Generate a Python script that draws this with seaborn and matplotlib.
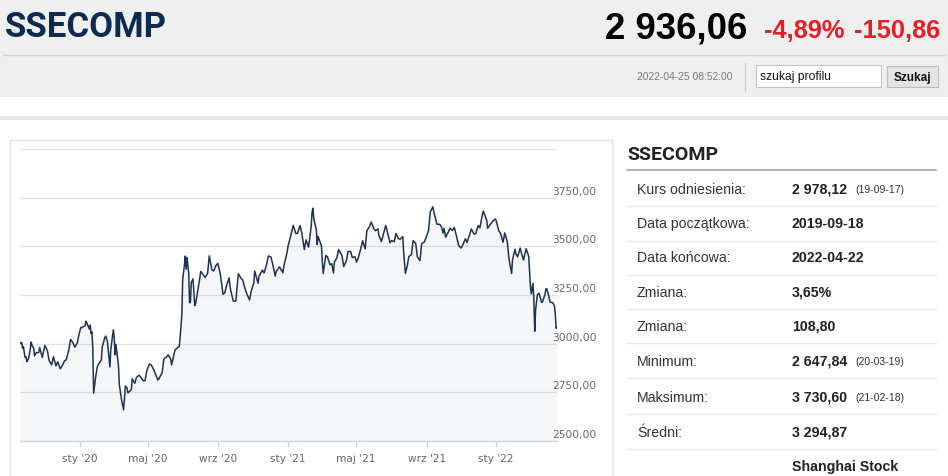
import numpy as np
import pandas as pd
import matplotlib
matplotlib.use("Agg")
import matplotlib.pyplot as plt
import seaborn as sns
from matplotlib.patches import Rectangle
from matplotlib.lines import Line2D

sns.set_theme(style="white")
plt.rcParams['font.family'] = ['Liberation Sans', 'DejaVu Sans']

# ---------------- data ----------------
dates = [
 "2019-09-18","2019-09-19","2019-09-20","2019-09-23","2019-09-24","2019-09-25","2019-09-26","2019-09-27","2019-09-30",
 "2019-10-08","2019-10-09","2019-10-10","2019-10-11","2019-10-14","2019-10-15","2019-10-17","2019-10-18","2019-10-22",
 "2019-10-25","2019-10-28","2019-10-31","2019-11-05","2019-11-08","2019-11-12","2019-11-15","2019-11-19","2019-11-22",
 "2019-11-26","2019-11-29","2019-12-03","2019-12-06","2019-12-10","2019-12-13","2019-12-17","2019-12-20","2019-12-24",
 "2019-12-27","2019-12-31",
 "2020-01-03","2020-01-06","2020-01-10","2020-01-13","2020-01-14","2020-01-17","2020-01-20","2020-01-21","2020-01-22",
 "2020-01-23","2020-02-03","2020-02-04","2020-02-05","2020-02-07","2020-02-10","2020-02-14","2020-02-17","2020-02-20",
 "2020-02-21","2020-02-25","2020-02-28","2020-03-02","2020-03-05","2020-03-06","2020-03-09","2020-03-10","2020-03-12",
 "2020-03-13","2020-03-16","2020-03-18","2020-03-19","2020-03-23","2020-03-24","2020-03-25","2020-03-27","2020-03-30",
 "2020-04-03","2020-04-07","2020-04-10","2020-04-14","2020-04-17","2020-04-21","2020-04-24","2020-04-28","2020-04-30",
 "2020-05-08","2020-05-12","2020-05-15","2020-05-22","2020-05-25","2020-05-29","2020-06-02","2020-06-05","2020-06-09",
 "2020-06-12","2020-06-15","2020-06-19","2020-06-24","2020-06-30","2020-07-02","2020-07-03","2020-07-06","2020-07-08",
 "2020-07-09","2020-07-10","2020-07-13","2020-07-15","2020-07-16","2020-07-17","2020-07-20","2020-07-22","2020-07-24",
 "2020-07-27","2020-07-31","2020-08-04","2020-08-07","2020-08-11","2020-08-14","2020-08-18","2020-08-21","2020-08-25",
 "2020-08-28","2020-09-01","2020-09-04","2020-09-09","2020-09-11","2020-09-15","2020-09-18","2020-09-22","2020-09-25",
 "2020-09-30","2020-10-09","2020-10-13","2020-10-16","2020-10-20","2020-10-23","2020-10-27","2020-10-30","2020-11-03",
 "2020-11-06","2020-11-09","2020-11-13","2020-11-16","2020-11-20","2020-11-24","2020-11-27","2020-12-01","2020-12-04",
 "2020-12-08","2020-12-11","2020-12-14","2020-12-18","2020-12-24","2020-12-25","2020-12-31",
 "2021-01-04","2021-01-08","2021-01-12","2021-01-15","2021-01-19","2021-01-22","2021-01-26","2021-01-29","2021-02-02",
 "2021-02-05","2021-02-10","2021-02-18","2021-02-19","2021-02-22","2021-02-25","2021-02-26","2021-03-01","2021-03-05",
 "2021-03-08","2021-03-09","2021-03-12","2021-03-16","2021-03-19","2021-03-23","2021-03-25","2021-03-26","2021-03-31",
 "2021-04-02","2021-04-09","2021-04-13","2021-04-16","2021-04-20","2021-04-23","2021-04-27","2021-04-30","2021-05-07",
 "2021-05-11","2021-05-14","2021-05-18","2021-05-21","2021-05-25","2021-05-28","2021-06-01","2021-06-04","2021-06-08",
 "2021-06-11","2021-06-15","2021-06-18","2021-06-22","2021-06-25","2021-06-29","2021-07-02","2021-07-06","2021-07-09",
 "2021-07-13","2021-07-16","2021-07-20","2021-07-23","2021-07-26","2021-07-28","2021-07-30","2021-08-03","2021-08-06",
 "2021-08-10","2021-08-13","2021-08-17","2021-08-20","2021-08-24","2021-08-27","2021-08-31","2021-09-03","2021-09-07",
 "2021-09-10","2021-09-14","2021-09-17","2021-09-24","2021-09-28","2021-09-30","2021-10-08","2021-10-12","2021-10-15",
 "2021-10-19","2021-10-22","2021-10-26","2021-10-29","2021-11-02","2021-11-05","2021-11-09","2021-11-12","2021-11-16",
 "2021-11-19","2021-11-23","2021-11-26","2021-11-30","2021-12-03","2021-12-07","2021-12-10","2021-12-13","2021-12-17",
 "2021-12-20","2021-12-24","2021-12-28","2021-12-31",
 "2022-01-04","2022-01-07","2022-01-11","2022-01-14","2022-01-18","2022-01-21","2022-01-25","2022-01-28","2022-02-07",
 "2022-02-10","2022-02-11","2022-02-15","2022-02-18","2022-02-22","2022-02-24","2022-02-25","2022-03-01","2022-03-04",
 "2022-03-08","2022-03-09","2022-03-11","2022-03-14","2022-03-15","2022-03-16","2022-03-18","2022-03-22","2022-03-25",
 "2022-03-28","2022-03-31","2022-04-01","2022-04-06","2022-04-08","2022-04-12","2022-04-15","2022-04-19","2022-04-20",
 "2022-04-21","2022-04-22",
]
closes = [
 3000,3005,3006,2977,2985,2955,2929,2932,2908,
 2914,2924,2947,2973,3008,2991,2977,2938,2954,
 2955,2980,2929,2991,2964,2914,2891,2933,2885,
 2907,2871,2884,2912,2917,2968,3022,3004,2982,
 3005,3050,
 3083,3083,3092,3115,3106,3075,3095,3052,3060,
 2976,2746,2783,2818,2876,2890,2917,2983,3030,
 3039,3013,2880,2970,3071,3034,2943,2996,2923,
 2887,2789,2728,2702,2660,2722,2782,2772,2747,
 2764,2820,2796,2827,2838,2828,2809,2810,2860,
 2895,2892,2868,2813,2818,2852,2922,2931,2943,
 2920,2891,2968,2980,2985,3090,3152,3332,3403,
 3450,3383,3443,3361,3210,3214,3314,3333,3196,
 3205,3310,3371,3354,3340,3360,3451,3380,3373,
 3403,3413,3355,3254,3260,3295,3338,3274,3219,
 3218,3272,3359,3336,3328,3278,3254,3225,3271,
 3312,3373,3310,3346,3378,3363,3408,3451,3445,
 3410,3347,3369,3395,3364,3397,3473,
 3502,3570,3608,3566,3567,3607,3569,3483,3533,
 3496,3603,3675,3696,3643,3585,3509,3551,3502,
 3421,3360,3453,3446,3405,3411,3363,3418,3441,
 3484,3450,3396,3426,3473,3474,3442,3447,3419,
 3441,3490,3529,3487,3581,3600,3625,3592,3580,
 3590,3556,3525,3557,3607,3573,3519,3530,3524,
 3566,3539,3537,3550,3467,3361,3397,3447,3458,
 3529,3516,3446,3427,3514,3522,3544,3581,3676,
 3703,3662,3613,3613,3602,3568,3592,3547,3572,
 3593,3582,3597,3547,3505,3491,3507,3539,3521,
 3560,3589,3564,3564,3607,3595,3666,3681,3632,
 3593,3618,3630,3640,
 3632,3580,3567,3521,3569,3523,3433,3361,3429,
 3485,3462,3446,3491,3457,3430,3452,3488,3448,
 3293,3256,3310,3224,3064,3171,3251,3259,3212,
 3214,3252,3282,3283,3252,3213,3211,3195,3151,
 3079,3087,
]
market_holidays = [
 "2019-10-01","2019-10-02","2019-10-03","2019-10-04","2019-10-07",
 "2020-01-01","2020-01-24","2020-01-27","2020-01-28","2020-01-29","2020-01-30","2020-01-31",
 "2020-04-06","2020-05-01","2020-05-04","2020-05-05","2020-06-25","2020-06-26",
 "2020-10-01","2020-10-02","2020-10-05","2020-10-06","2020-10-07","2020-10-08",
 "2021-01-01","2021-02-11","2021-02-12","2021-02-15","2021-02-16","2021-02-17",
 "2021-04-05","2021-05-03","2021-05-04","2021-05-05","2021-06-14","2021-09-20","2021-09-21",
 "2021-10-01","2021-10-04","2021-10-05","2021-10-06","2021-10-07",
 "2022-01-03","2022-01-31","2022-02-01","2022-02-02","2022-02-03","2022-02-04",
 "2022-04-04","2022-04-05",
]
tick_months = ["2020-01-01","2020-05-01","2020-09-01","2021-01-01","2021-05-01","2021-09-01","2022-01-01"]
tick_labels = ["sty '20","maj '20","wrz '20","sty '21","maj '21","wrz '21","sty '22"]
y_grid = [2500, 2750, 3000, 3250, 3500, 3750, 4000]
y_label_vals = [2500, 2750, 3000, 3250, 3500, 3750]
y_label_text = ["2500,00", "2750,00", "3000,00", "3250,00", "3500,00", "3750,00"]

title = "SSECOMP"
last_value = "2 936,06"
change_pct = "-4,89%"
change_abs = "-150,86"
timestamp = "2022-04-25 08:52:00"
search_placeholder = "szukaj profilu"
search_button = "Szukaj"

row_labels = ["Kurs odniesienia:", "Data początkowa:", "Data końcowa:", "Zmiana:", "Zmiana:",
              "Minimum:", "Maksimum:", "Średni:", ""]
row_values = ["2 978,12", "2019-09-18", "2022-04-22", "3,65%", "108,80",
              "2 647,84", "3 730,60", "3 294,87", "Shanghai Stock"]
row_notes = ["(19-09-17)", "", "", "", "", "(20-03-19)", "(21-02-18)", "", ""]

# ---------------- trading-day (ordinal) axis ----------------
d = pd.to_datetime(dates)
trading = pd.bdate_range(d.min(), d.max())
trading = trading[~trading.isin(pd.to_datetime(market_holidays))]
pos = trading.searchsorted(d)
tick_pos = trading.searchsorted(pd.to_datetime(tick_months))
df = pd.DataFrame({"pos": pos, "close": closes})

LINE = "#1d3354"
W, H = 948, 477
fig = plt.figure(figsize=(W / 100, H / 100), dpi=100)

# ---------------- page background / header ----------------
bg = fig.add_axes([0, 0, 1, 1])
bg.set_xlim(0, W)
bg.set_ylim(H, 0)
bg.axis("off")
bg.add_patch(Rectangle((0, 0), W, 98, color="#efefef", lw=0))
bg.add_patch(Rectangle((0, 117), W, 4, color="#e8e8e8", lw=0))
bg.add_line(Line2D([3, 945], [56, 56], color="#d2d2d2", lw=1))
bg.add_line(Line2D([745, 745], [64, 92], color="#d2d2d2", lw=1))
bg.text(5, 27.5, title, fontsize=25, fontweight="bold", family="Roboto", color="#0e2a4f", va="center", ha="left")
bg.text(747, 29, last_value, fontsize=26.3, fontweight="bold", color="#000000", va="center", ha="right")
bg.text(764, 31, change_pct, fontsize=18.3, fontweight="bold", color="#ec1c24", va="center", ha="left")
bg.text(940, 31, change_abs, fontsize=18.3, fontweight="bold", color="#ec1c24", va="center", ha="right")
bg.text(733, 77, timestamp, fontsize=7.4, color="#7a7a7a", va="center", ha="right")
bg.add_patch(Rectangle((756, 66), 125, 22, facecolor="white", edgecolor="#c4c4c4", lw=0.8))
bg.text(760, 77, search_placeholder, fontsize=8.7, color="#111111", va="center", ha="left")
bg.add_patch(Rectangle((887, 67), 51, 21, facecolor="#e4e4e4", edgecolor="#bdbdbd", lw=0.8))
bg.text(912.5, 77.5, search_button, fontsize=8.5, fontweight="bold", color="#111111", va="center", ha="center")

# chart frame
bg.add_patch(Rectangle((10, 141), 602, 345, facecolor="white", edgecolor="#e2e2e2", lw=1))

# right info panel
bg.text(627, 155, title, fontsize=14, fontweight="bold", family="Roboto", color="#222222", va="center", ha="left")
bg.add_line(Line2D([627, 936], [171, 171], color="#b4b4b4", lw=1.5))
row_y = [190, 224, 258, 293, 327, 362, 398, 433, 467]
sep_y = [207, 242, 276, 310, 344, 379, 415, 450]
for yy in sep_y:
    bg.add_line(Line2D([627, 936], [yy, yy], color="#e8e8e8", lw=1))
for yy, lab, val, note in zip(row_y, row_labels, row_values, row_notes):
    if lab:
        bg.text(637, yy, lab, fontsize=10.2, color="#333333", va="center", ha="left")
    bg.text(792, yy, val, fontsize=10.2, fontweight="bold", color="#222222", va="center", ha="left")
    if note:
        bg.text(855, yy + 0.5, note, fontsize=7.5, color="#333333", va="center", ha="left")

# ---------------- chart ----------------
ax = fig.add_axes([20 / W, (H - 442) / H, 537 / W, 292 / H])
ax.set_facecolor("none")
ax.fill_between(df["pos"], df["close"], 2500, color=LINE, alpha=0.045, lw=0, zorder=1)
sns.lineplot(data=df, x="pos", y="close", ax=ax, color=LINE, linewidth=1.1, zorder=3)
ax.set_xlim(0, len(trading) - 1)
ax.set_ylim(2500, 4000)
ax.set_yticks(y_grid)
ax.yaxis.grid(True, color="#e3e3e3", lw=0.9, zorder=0)
ax.set_axisbelow(True)
ax.tick_params(axis="y", length=0, labelleft=False, left=False)
ax.set_xticks(tick_pos)
ax.set_xticklabels(tick_labels)
ax.tick_params(axis="x", bottom=True, length=4, width=0.9, color="#ccd6eb", labelcolor="#666666",
               labelsize=7.6, pad=4.5, direction="out")
for lbl in ax.get_xticklabels():
    lbl.set_family("DejaVu Sans")
ax.set_xlabel("")
ax.set_ylabel("")
for s in ["top", "right", "left"]:
    ax.spines[s].set_visible(False)
ax.spines["bottom"].set_color("#ccd6eb")
ax.spines["bottom"].set_linewidth(1)
for v, t in zip(y_label_vals, y_label_text):
    ax.annotate(t, xy=(532 / 537, v), xycoords=("axes fraction", "data"), xytext=(0, 1.5),
                textcoords="offset points", va="bottom", ha="left", fontsize=7.7, color="#666666",
                family="DejaVu Sans", annotation_clip=False)

fig.savefig("out.png", dpi=100)
